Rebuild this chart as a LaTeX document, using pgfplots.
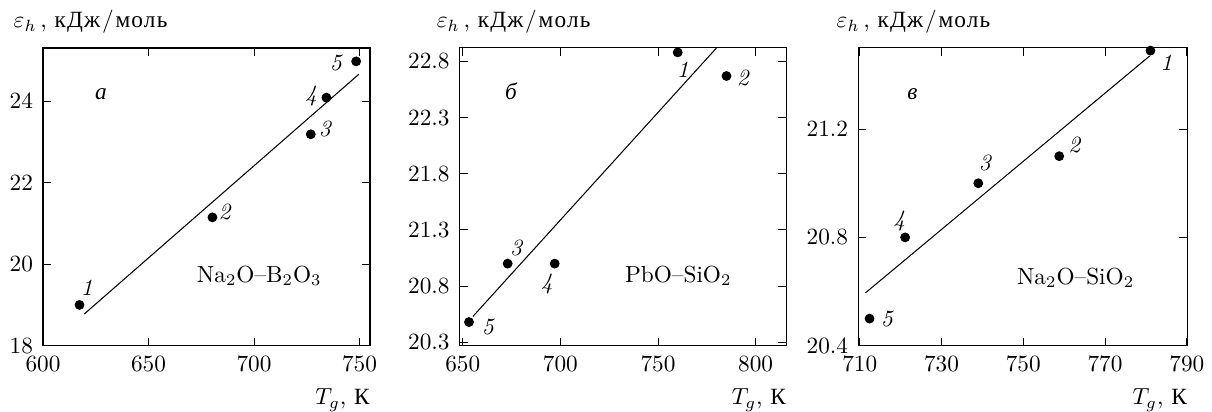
\documentclass[border=0pt]{standalone}
\usepackage{fontspec}
\usepackage{pgfplots}
\pgfplotsset{compat=1.18}

% Latin Modern has no Cyrillic: set those words in a serif that has it
\newfontfamily\cyrfont[LetterSpace=5]{Liberation Serif}
\newcommand{\cyr}[1]{{\cyrfont #1}}
\newcommand{\ylab}{$\varepsilon_h$\,, \cyr{кДж}\kern0.8pt/\kern0.8pt\cyr{моль}}
\newcommand{\xlab}{$T_g$, \cyr{К}}

\pgfplotsset{
  panel/.style={
    scale only axis,
    height=128pt,
    clip=false,
    tick align=inside,
    xtick pos=both, ytick pos=both,
    xticklabel pos=lower, yticklabel pos=left,
    major tick length=3.5pt,
    every tick/.style={black, line width=0.4pt},
    axis line style={line width=0.5pt},
    xticklabel style={yshift=-1.2pt},
    yticklabel style={xshift=-0.8pt},
  },
  onedec/.style={
    yticklabel style={/pgf/number format/.cd, fixed, fixed zerofill, precision=1},
  },
  pts/.style={only marks, mark=*, mark size=1.9pt, black},
  fit/.style={black, line width=0.45pt, mark=none},
}
\tikzset{num/.style={inner sep=0pt, font=\itshape}}

\begin{document}
\begin{tikzpicture}
% ---------- a: Na2O-B2O3 ----------
\begin{axis}[panel, at={(0pt,0pt)}, width=140.6pt,
  xmin=600, xmax=755, ymin=18, ymax=25.31,
  xtick={600,650,700,750}, ytick={18,20,22,24}]
\addplot[fit] coordinates {(619.6,18.78) (749.6,24.66)};
\addplot[pts] coordinates {
  (617.3,19.00) (680.3,21.15) (726.9,23.19) (734.3,24.09) (748.4,24.98)};
\node[num] at (axis cs:620.7,19.41) {1};
\node[num] at (axis cs:686.0,21.28) {2};
\node[num] at (axis cs:733.5,23.32) {3};
\node[num] at (axis cs:727.0,24.13) {4};
\node[num] at (axis cs:738.8,24.95) {5};
\node[num] at (axis cs:627.5,24.17) {\cyr{а}};
\node[inner sep=0pt] at (axis cs:702.5,19.72) {Na$_2$O--B$_2$O$_3$};
\node[anchor=base west, inner sep=0pt, xshift=-12.8pt, yshift=8.6pt]
  at (rel axis cs:0,1) {\ylab};
\node[anchor=base east, inner sep=0pt, yshift=-25.4pt]
  at (rel axis cs:1,0) {\xlab};
\end{axis}

% ---------- b: PbO-SiO2 ----------
\begin{axis}[panel, onedec, at={(179.1pt,0pt)}, width=140.5pt,
  xmin=648.4, xmax=815.8, ymin=20.27, ymax=22.92,
  xtick={650,700,750,800}, ytick={20.3,20.8,21.3,21.8,22.3,22.8}]
\addplot[fit] coordinates {(655.2,20.53) (780.0,22.92)};
\addplot[pts] coordinates {
  (760.1,22.88) (785.1,22.67) (673.0,21.00) (697.1,21.00) (653.2,20.48)};
\node[num] at (axis cs:762.7,22.73) {1};
\node[num] at (axis cs:793.5,22.655) {2};
\node[num] at (axis cs:677.3,21.14) {3};
\node[num] at (axis cs:693.1,20.82) {4};
\node[num] at (axis cs:662.9,20.44) {5};
\node[num] at (axis cs:674.7,22.53) {\cyr{б}};
\node[inner sep=0pt] at (axis cs:760.4,20.89) {PbO--SiO$_2$};
\node[anchor=base west, inner sep=0pt, xshift=-10pt, yshift=8.6pt]
  at (rel axis cs:0,1) {\ylab};
\node[anchor=base east, inner sep=0pt, yshift=-25.4pt]
  at (rel axis cs:1,0) {\xlab};
\end{axis}

% ---------- c: Na2O-SiO2 ----------
\begin{axis}[panel, onedec, at={(350.4pt,0pt)}, width=141.5pt,
  xmin=709.6, xmax=790.1, ymin=20.4, ymax=21.5,
  xtick={710,730,750,770,790}, ytick={20.4,20.8,21.2}]
\addplot[fit] coordinates {(711.4,20.595) (780.9,21.47)};
\addplot[pts] coordinates {
  (781.1,21.49) (758.8,21.10) (739.0,21.00) (721.1,20.80) (712.4,20.50)};
\node[num] at (axis cs:785.0,21.447) {1};
\node[num] at (axis cs:762.5,21.14) {2};
\node[num] at (axis cs:740.6,21.075) {3};
\node[num] at (axis cs:719.7,20.86) {4};
\node[num] at (axis cs:716.6,20.50) {5};
\node[num] at (axis cs:722.9,21.33) {\cyr{в}};
\node[inner sep=0pt] at (axis cs:762.8,20.65) {Na$_2$O--SiO$_2$};
\node[anchor=base west, inner sep=0pt, xshift=-9.4pt, yshift=8.6pt]
  at (rel axis cs:0,1) {\ylab};
\node[anchor=base east, inner sep=0pt, yshift=-25.4pt]
  at (rel axis cs:1,0) {\xlab};
\end{axis}

% page frame with the reference's margins
\path (-18.5pt,-27.5pt) rectangle (499.4pt,148.6pt);
\end{tikzpicture}
\end{document}
